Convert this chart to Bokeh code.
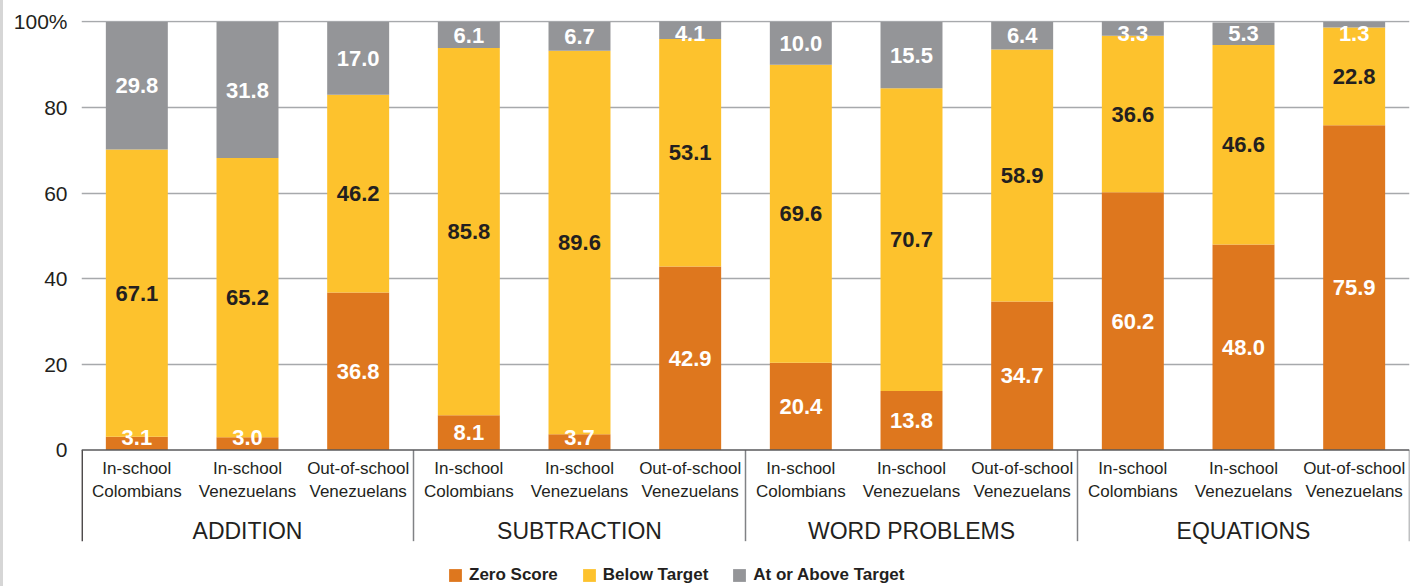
from bokeh.plotting import figure
from bokeh.models import ColumnDataSource, Range1d, FixedTicker, Span, Spacer
from bokeh.layouts import row
from bokeh.core.properties import value
from bokeh.embed import file_html
from bokeh.resources import INLINE

# ---------------- data ----------------
skills = ["ADDITION", "SUBTRACTION", "WORD PROBLEMS", "EQUATIONS"]
students = ["In-school\nColombians", "In-school\nVenezuelans", "Out-of-school\nVenezuelans"]
zero_score = [3.1, 3.0, 36.8, 8.1, 3.7, 42.9, 20.4, 13.8, 34.7, 60.2, 48.0, 75.9]
below_target = [67.1, 65.2, 46.2, 85.8, 89.6, 53.1, 69.6, 70.7, 58.9, 36.6, 46.6, 22.8]
at_or_above = [29.8, 31.8, 17.0, 6.1, 6.7, 4.1, 10.0, 15.5, 6.4, 3.3, 5.3, 1.3]
series_names = ["Zero Score", "Below Target", "At or Above Target"]
y_ticks = [0, 20, 40, 60, 80, 100]
y_tick_labels = ["0", "20", "40", "60", "80", "100%"]

# ---------------- styles ----------------
COLORS = ["#DE771E", "#FDC22D", "#949598"]
LABEL_COLORS = ["#FFFFFF", "#231F20", "#FFFFFF"]
FONT = "Liberation Sans"
DARK = "#231F20"

n_sub = len(students)
n = len(skills) * n_sub
xs = [i + 0.5 for i in range(n)]

src = ColumnDataSource(dict(x=xs, zero=zero_score, below=below_target, above=at_or_above))

FRAME_H = 566
PX_PER_UNIT = 4.28
Y_END = 100.35
p = figure(
    frame_width=1328, frame_height=FRAME_H,
    min_border_left=78, min_border_right=8, min_border_top=20, min_border_bottom=0,
    x_range=Range1d(0, n), y_range=Range1d(Y_END - FRAME_H / PX_PER_UNIT, Y_END),
    x_axis_location=None, toolbar_location=None, output_backend="svg",
    outline_line_color=None, background_fill_color="white", border_fill_color="white",
)

# bars
p.vbar_stack(["zero", "below", "above"], x="x", width=0.56, source=src,
             fill_color=COLORS, line_color=None, legend_label=series_names)

# value labels, centred in segments (kept inside the plot for tiny segments)
series = [zero_score, below_target, at_or_above]
bottoms = [0.0] * n
for k, vals in enumerate(series):
    ys, txt = [], []
    for i, v in enumerate(vals):
        mid = bottoms[i] + v / 2.0
        ys.append(min(max(mid, 3.0), 97.4))
        txt.append(f"{v:.1f}")
        bottoms[i] += v
    ls = ColumnDataSource(dict(x=xs, y=ys, t=txt))
    p.text(x="x", y="y", text="t", source=ls, text_align="center", text_baseline="middle",
           text_font=value(FONT), text_font_style="bold", text_font_size="22px",
           text_color=LABEL_COLORS[k])

# y axis
yax = p.yaxis[0]
yax.ticker = FixedTicker(ticks=y_ticks)
yax.major_label_overrides = {t: l for t, l in zip(y_ticks, y_tick_labels)}
yax.axis_line_color = None
yax.major_tick_line_color = None
yax.major_tick_out = 0
yax.major_tick_in = 0
yax.minor_tick_line_color = None
yax.major_label_standoff = 14
yax.major_label_text_font = FONT
yax.major_label_text_font_size = "21px"
yax.major_label_text_color = DARK

# grid
p.xgrid.visible = False
p.ygrid.ticker = FixedTicker(ticks=[t for t in y_ticks if t > 0])
p.ygrid.grid_line_color = "#A7A9AC"
p.ygrid.grid_line_width = 1.5
p.add_layout(Span(location=0, dimension="width", line_color="#58595B", line_width=1.5))

# group separators
sep_x = [g * n_sub for g in range(len(skills) + 1)]
p.segment(x0=sep_x[1:], y0=[0] * len(sep_x[1:]), x1=sep_x[1:], y1=[-21.3] * len(sep_x[1:]),
          line_color="#808285", line_width=1.5)
p.segment(x0=[sep_x[0] + 0.005], y0=[0], x1=[sep_x[0] + 0.005], y1=[-21.3],
          line_color=DARK, line_width=1.5)

# category labels (two lines)
cat_x, line1, line2 = [], [], []
for g in range(len(skills)):
    for s, name in enumerate(students):
        a, b = name.split("\n")
        cat_x.append(g * n_sub + s + 0.5)
        line1.append(a)
        line2.append(b)
for yy, lines in ((-4.3, line1), (-9.75, line2)):
    p.text(x=cat_x, y=[yy] * len(cat_x), text=lines, text_align="center",
           text_baseline="alphabetic", text_font=value(FONT), text_font_size="17px",
           text_color=DARK)

# group labels
grp_x = [g * n_sub + n_sub / 2.0 for g in range(len(skills))]
p.text(x=grp_x, y=[-18.95] * len(grp_x), text=skills, text_align="center",
       text_baseline="alphabetic", text_font=value(FONT), text_font_size="23px",
       text_color=DARK)

# legend
lg = p.legend[0]
lg.orientation = "horizontal"
lg.location = (366, 1)
lg.glyph_width = 16
lg.glyph_height = 16
lg.label_height = 16
lg.label_standoff = 6
lg.spacing = 23
lg.padding = 0
lg.margin = 0
lg.border_line_color = None
lg.background_fill_alpha = 0
lg.label_text_font = FONT
lg.label_text_font_size = "17px"
lg.label_text_font_style = "bold"
lg.label_text_color = DARK

edge = Spacer(width=3, height=FRAME_H + 20, styles={"background-color": "#D6D6D6"})
layout = row(edge, p, spacing=0)

open("out.html", "w").write(file_html(layout, INLINE))
